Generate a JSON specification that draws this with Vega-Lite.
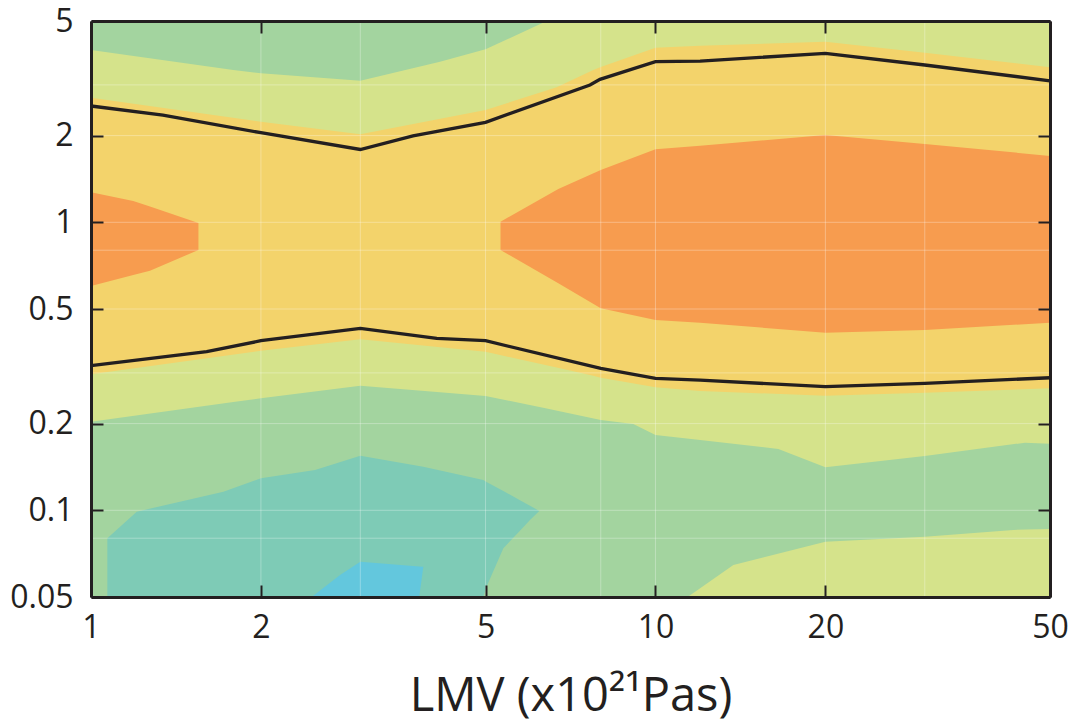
{
  "$schema": "https://vega.github.io/schema/vega-lite/v6.json",
  "width": 959,
  "height": 576,
  "autosize": {"type": "none"},
  "padding": {"left": 91, "top": 21, "right": 29, "bottom": 126},
  "config": {"view": {"fill": "#A3D49F", "stroke": null}, "font": "Open Sans"},
  "resolve": {"axis": {"x": "independent", "y": "independent"}},
  "datasets": {
    "regions": [
      {"r": "yg", "x": 1, "lo": 0.203, "hi": 3.965},
      {"r": "yg", "x": 1.787, "lo": 0.2376, "hi": 3.379},
      {"r": "yg", "x": 2, "lo": 0.2449, "hi": 3.291},
      {"r": "yg", "x": 3, "lo": 0.2708, "hi": 3.10},
      {"r": "yg", "x": 4.152, "lo": 0.257, "hi": 3.612},
      {"r": "yg", "x": 5, "lo": 0.2494, "hi": 3.987},
      {"r": "yg", "x": 6.417, "lo": 0.2256, "hi": 5},
      {"r": "yg", "x": 8, "lo": 0.2058, "hi": 5},
      {"r": "yg", "x": 9.136, "lo": 0.1994, "hi": 5},
      {"r": "yg", "x": 10, "lo": 0.1826, "hi": 5},
      {"r": "yg", "x": 12, "lo": 0.1755, "hi": 5},
      {"r": "yg", "x": 16.51, "lo": 0.1633, "hi": 5},
      {"r": "yg", "x": 20, "lo": 0.141, "hi": 5},
      {"r": "yg", "x": 30, "lo": 0.1544, "hi": 5},
      {"r": "yg", "x": 45.15, "lo": 0.1717, "hi": 5},
      {"r": "yg", "x": 50, "lo": 0.1703, "hi": 5},
      {"r": "yg2", "x": 11.4, "lo": 0.05, "hi": 0.05},
      {"r": "yg2", "x": 12, "lo": 0.05, "hi": 0.0536},
      {"r": "yg2", "x": 13.74, "lo": 0.05, "hi": 0.0646},
      {"r": "yg2", "x": 20, "lo": 0.05, "hi": 0.0778},
      {"r": "yg2", "x": 30, "lo": 0.05, "hi": 0.081},
      {"r": "yg2", "x": 43.05, "lo": 0.05, "hi": 0.0855},
      {"r": "yg2", "x": 50, "lo": 0.05, "hi": 0.0861},
      {"r": "teal", "x": 1.069, "lo": 0.05, "hi": 0.08},
      {"r": "teal", "x": 1.205, "lo": 0.05, "hi": 0.0989},
      {"r": "teal", "x": 1.716, "lo": 0.05, "hi": 0.116},
      {"r": "teal", "x": 2, "lo": 0.05, "hi": 0.1292},
      {"r": "teal", "x": 2.494, "lo": 0.05, "hi": 0.138},
      {"r": "teal", "x": 3, "lo": 0.05, "hi": 0.1547},
      {"r": "teal", "x": 3.879, "lo": 0.05, "hi": 0.1417},
      {"r": "teal", "x": 4.955, "lo": 0.05, "hi": 0.1274},
      {"r": "teal", "x": 5.02, "lo": 0.0543, "hi": 0.1255},
      {"r": "teal", "x": 5.377, "lo": 0.0738, "hi": 0.1167},
      {"r": "teal", "x": 5.754, "lo": 0.085, "hi": 0.1083},
      {"r": "teal", "x": 5.994, "lo": 0.0926, "hi": 0.1037},
      {"r": "teal", "x": 6.226, "lo": 0.0995, "hi": 0.0995},
      {"r": "cyan", "x": 2.46, "lo": 0.05, "hi": 0.05},
      {"r": "cyan", "x": 2.762, "lo": 0.05, "hi": 0.0596},
      {"r": "cyan", "x": 3, "lo": 0.05, "hi": 0.0663},
      {"r": "cyan", "x": 3.815, "lo": 0.05, "hi": 0.0638},
      {"r": "cyan", "x": 3.879, "lo": 0.0637, "hi": 0.0637},
      {"r": "yel", "x": 1, "lo": 0.2966, "hi": 2.709},
      {"r": "yel", "x": 2, "lo": 0.3582, "hi": 2.235},
      {"r": "yel", "x": 3, "lo": 0.3925, "hi": 2.022},
      {"r": "yel", "x": 5, "lo": 0.3554, "hi": 2.454},
      {"r": "yel", "x": 6.683, "lo": 0.313, "hi": 2.943},
      {"r": "yel", "x": 7.76, "lo": 0.293, "hi": 3.379},
      {"r": "yel", "x": 8, "lo": 0.2886, "hi": 3.461},
      {"r": "yel", "x": 10, "lo": 0.2674, "hi": 4.039},
      {"r": "yel", "x": 12, "lo": 0.2596, "hi": 4.104},
      {"r": "yel", "x": 20, "lo": 0.25, "hi": 4.238},
      {"r": "yel", "x": 30, "lo": 0.256, "hi": 3.88},
      {"r": "yel", "x": 50, "lo": 0.2653, "hi": 3.452},
      {"r": "oraR", "x": 5.315, "lo": 0.8016, "hi": 1.005},
      {"r": "oraR", "x": 6.728, "lo": 0.614, "hi": 1.305},
      {"r": "oraR", "x": 8, "lo": 0.503, "hi": 1.519},
      {"r": "oraR", "x": 10, "lo": 0.458, "hi": 1.793},
      {"r": "oraR", "x": 12, "lo": 0.448, "hi": 1.845},
      {"r": "oraR", "x": 20, "lo": 0.4137, "hi": 2.01},
      {"r": "oraR", "x": 30, "lo": 0.4228, "hi": 1.871},
      {"r": "oraR", "x": 50, "lo": 0.448, "hi": 1.70},
      {"r": "oraL", "x": 1, "lo": 0.601, "hi": 1.271},
      {"r": "oraL", "x": 1.188, "lo": 0.6566, "hi": 1.186},
      {"r": "oraL", "x": 1.272, "lo": 0.679, "hi": 1.134},
      {"r": "oraL", "x": 1.55, "lo": 0.8016, "hi": 0.9945}
    ],
    "lines": [
      {"l": "up", "x": 1, "y": 2.534},
      {"l": "up", "x": 1.341, "y": 2.358},
      {"l": "up", "x": 2, "y": 2.047},
      {"l": "up", "x": 3, "y": 1.79},
      {"l": "up", "x": 3.719, "y": 1.994},
      {"l": "up", "x": 5, "y": 2.224},
      {"l": "up", "x": 7.656, "y": 2.997},
      {"l": "up", "x": 7.975, "y": 3.137},
      {"l": "up", "x": 10, "y": 3.612},
      {"l": "up", "x": 12, "y": 3.63},
      {"l": "up", "x": 20, "y": 3.862},
      {"l": "up", "x": 30, "y": 3.517},
      {"l": "up", "x": 50, "y": 3.10},
      {"l": "lo", "x": 1, "y": 0.3178},
      {"l": "lo", "x": 1.603, "y": 0.3554},
      {"l": "lo", "x": 2, "y": 0.388},
      {"l": "lo", "x": 3, "y": 0.4285},
      {"l": "lo", "x": 4.097, "y": 0.3956},
      {"l": "lo", "x": 5, "y": 0.388},
      {"l": "lo", "x": 8, "y": 0.311},
      {"l": "lo", "x": 10, "y": 0.287},
      {"l": "lo", "x": 12, "y": 0.283},
      {"l": "lo", "x": 20, "y": 0.2687},
      {"l": "lo", "x": 30, "y": 0.276},
      {"l": "lo", "x": 50, "y": 0.2886}
    ],
    "gridx": [{"x": 1}, {"x": 2}, {"x": 3}, {"x": 5}, {"x": 8}, {"x": 10}, {"x": 20}, {"x": 30}, {"x": 50}],
    "gridy": [{"y": 0.05}, {"y": 0.08}, {"y": 0.1}, {"y": 0.2}, {"y": 0.3}, {"y": 0.5}, {"y": 0.8}, {"y": 1}, {"y": 2}, {"y": 3}, {"y": 5}]
  },
  "layer": [
    {
      "data": {"name": "regions"},
      "transform": [{"filter": "datum.r === 'yg'"}],
      "mark": {"type": "area", "color": "#D5E38B", "opacity": 1, "interpolate": "linear"},
      "encoding": {
        "x": {"field": "x", "type": "quantitative", "scale": {"type": "log", "domain": [1, 50], "nice": false},
          "axis": {"orient": "bottom", "values": [1, 2, 5, 10, 20, 50], "format": "~g", "labelFont": "Open Sans", "labelFontSize": 32, "labelColor": "#231f20", "labelPadding": 27, "labelFlush": false, "labelOverlap": false, "tickSize": -12, "tickColor": "#231f20", "tickWidth": 2, "domainColor": "#231f20", "domainWidth": 3, "grid": false, "title": "LMV (x10²¹Pas)", "titleFont": "Open Sans", "titleFontSize": 47, "titleFontWeight": "normal", "titleColor": "#231f20", "titleBaseline": "alphabetic", "titleY": 113, "zindex": 1}},
        "y": {"field": "hi", "type": "quantitative", "stack": null, "scale": {"type": "log", "domain": [0.05, 5], "nice": false},
          "axis": {"orient": "left", "values": [0.05, 0.1, 0.2, 0.5, 1, 2, 5], "format": "~g", "labelFont": "Open Sans", "labelFontSize": 32, "labelColor": "#231f20", "labelPadding": 30, "labelFlush": false, "labelOverlap": false, "tickSize": -12, "tickColor": "#231f20", "tickWidth": 2, "domainColor": "#231f20", "domainWidth": 3, "grid": false, "title": null, "zindex": 1}},
        "y2": {"field": "lo"}
      }
    },
    {
      "data": {"name": "regions"},
      "transform": [{"filter": "datum.r === 'yg2'"}],
      "mark": {"type": "area", "color": "#D5E38B", "opacity": 1},
      "encoding": {
        "x": {"field": "x", "type": "quantitative", "scale": {"type": "log", "domain": [1, 50], "nice": false}, "axis": null},
        "y": {"field": "hi", "type": "quantitative", "stack": null, "scale": {"type": "log", "domain": [0.05, 5], "nice": false}, "axis": null},
        "y2": {"field": "lo"}
      }
    },
    {
      "data": {"name": "regions"},
      "transform": [{"filter": "datum.r === 'teal'"}],
      "mark": {"type": "area", "color": "#7ECBB6", "opacity": 1},
      "encoding": {
        "x": {"field": "x", "type": "quantitative", "scale": {"type": "log", "domain": [1, 50], "nice": false}, "axis": null},
        "y": {"field": "hi", "type": "quantitative", "stack": null, "scale": {"type": "log", "domain": [0.05, 5], "nice": false}, "axis": null},
        "y2": {"field": "lo"}
      }
    },
    {
      "data": {"name": "regions"},
      "transform": [{"filter": "datum.r === 'cyan'"}],
      "mark": {"type": "area", "color": "#63C7DD", "opacity": 1},
      "encoding": {
        "x": {"field": "x", "type": "quantitative", "scale": {"type": "log", "domain": [1, 50], "nice": false}, "axis": null},
        "y": {"field": "hi", "type": "quantitative", "stack": null, "scale": {"type": "log", "domain": [0.05, 5], "nice": false}, "axis": null},
        "y2": {"field": "lo"}
      }
    },
    {
      "data": {"name": "regions"},
      "transform": [{"filter": "datum.r === 'yel'"}],
      "mark": {"type": "area", "color": "#F3D36B", "opacity": 1},
      "encoding": {
        "x": {"field": "x", "type": "quantitative", "scale": {"type": "log", "domain": [1, 50], "nice": false}, "axis": null},
        "y": {"field": "hi", "type": "quantitative", "stack": null, "scale": {"type": "log", "domain": [0.05, 5], "nice": false}, "axis": null},
        "y2": {"field": "lo"}
      }
    },
    {
      "data": {"name": "regions"},
      "transform": [{"filter": "datum.r === 'oraR'"}],
      "mark": {"type": "area", "color": "#F79C4F", "opacity": 1},
      "encoding": {
        "x": {"field": "x", "type": "quantitative", "scale": {"type": "log", "domain": [1, 50], "nice": false}, "axis": null},
        "y": {"field": "hi", "type": "quantitative", "stack": null, "scale": {"type": "log", "domain": [0.05, 5], "nice": false}, "axis": null},
        "y2": {"field": "lo"}
      }
    },
    {
      "data": {"name": "regions"},
      "transform": [{"filter": "datum.r === 'oraL'"}],
      "mark": {"type": "area", "color": "#F79C4F", "opacity": 1},
      "encoding": {
        "x": {"field": "x", "type": "quantitative", "scale": {"type": "log", "domain": [1, 50], "nice": false}, "axis": null},
        "y": {"field": "hi", "type": "quantitative", "stack": null, "scale": {"type": "log", "domain": [0.05, 5], "nice": false}, "axis": null},
        "y2": {"field": "lo"}
      }
    },
    {
      "data": {"name": "gridx"},
      "mark": {"type": "rule", "color": "#ffffff", "opacity": 0.3, "strokeWidth": 1},
      "encoding": {
        "x": {"field": "x", "type": "quantitative", "scale": {"type": "log", "domain": [1, 50], "nice": false}, "axis": null}
      }
    },
    {
      "data": {"name": "gridy"},
      "mark": {"type": "rule", "color": "#ffffff", "opacity": 0.3, "strokeWidth": 1},
      "encoding": {
        "y": {"field": "y", "type": "quantitative", "scale": {"type": "log", "domain": [0.05, 5], "nice": false}, "axis": null}
      }
    },
    {
      "data": {"name": "lines"},
      "mark": {"type": "line", "color": "#231f20", "strokeWidth": 3.3},
      "encoding": {
        "x": {"field": "x", "type": "quantitative", "scale": {"type": "log", "domain": [1, 50], "nice": false},
          "axis": {"orient": "top", "values": [1, 2, 5, 10, 20, 50], "labels": false, "tickSize": -12, "tickColor": "#231f20", "tickWidth": 2, "domainColor": "#231f20", "domainWidth": 3, "grid": false, "title": null, "zindex": 1}},
        "y": {"field": "y", "type": "quantitative", "scale": {"type": "log", "domain": [0.05, 5], "nice": false},
          "axis": {"orient": "right", "values": [0.05, 0.1, 0.2, 0.5, 1, 2, 5], "labels": false, "tickSize": -12, "tickColor": "#231f20", "tickWidth": 2, "domainColor": "#231f20", "domainWidth": 3, "grid": false, "title": null, "zindex": 1}},
        "detail": {"field": "l", "type": "nominal"}
      }
    }
  ]
}
